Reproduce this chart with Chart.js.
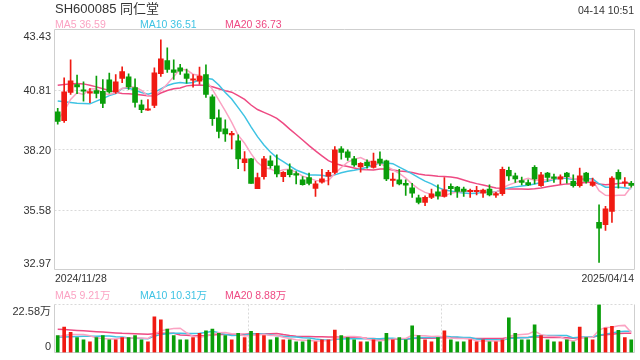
<!DOCTYPE html>
<html><head><meta charset="utf-8">
<script src="https://cdn.jsdelivr.net/npm/chart.js@4.4.1/dist/chart.umd.min.js"></script>
<style>
html,body{margin:0;padding:0;background:#fff;}
#wrap{position:relative;width:640px;height:360px;overflow:hidden;font-family:"Liberation Sans",Arial,"Noto Sans CJK SC",sans-serif;color:#333;}
canvas{position:absolute;left:0;top:0;}
.t{position:absolute;white-space:nowrap;line-height:1;}
</style></head><body>
<div id="wrap">
<canvas id="k" width="640" height="360"></canvas>
<canvas id="v" width="640" height="360"></canvas>
</div>
<script>
const dates = ["2024/11/28","2024/11/29",
"2024/12/02","2024/12/03","2024/12/04","2024/12/05","2024/12/06","2024/12/09","2024/12/10","2024/12/11","2024/12/12","2024/12/13",
"2024/12/16","2024/12/17","2024/12/18","2024/12/19","2024/12/20","2024/12/23","2024/12/24","2024/12/25","2024/12/26","2024/12/27","2024/12/30","2024/12/31",
"2025/01/02","2025/01/03","2025/01/06","2025/01/07","2025/01/08","2025/01/09","2025/01/10","2025/01/13","2025/01/14","2025/01/15","2025/01/16","2025/01/17",
"2025/01/20","2025/01/21","2025/01/22","2025/01/23","2025/01/24","2025/01/27",
"2025/02/05","2025/02/06","2025/02/07","2025/02/10","2025/02/11","2025/02/12","2025/02/13","2025/02/14","2025/02/17","2025/02/18","2025/02/19","2025/02/20","2025/02/21",
"2025/02/24","2025/02/25","2025/02/26","2025/02/27","2025/02/28",
"2025/03/03","2025/03/04","2025/03/05","2025/03/06","2025/03/07","2025/03/10","2025/03/11","2025/03/12","2025/03/13","2025/03/14",
"2025/03/17","2025/03/18","2025/03/19","2025/03/20","2025/03/21","2025/03/24","2025/03/25","2025/03/26","2025/03/27","2025/03/28","2025/03/31",
"2025/04/01","2025/04/02","2025/04/03","2025/04/07","2025/04/08","2025/04/09","2025/04/10","2025/04/11","2025/04/14"];

const opens  = [39.84,39.46,40.69,41.03,40.77,40.66,40.77,40.74,41.24,40.71, 41.30,41.37,40.90,40.15,39.91,40.12,41.51,42.07,41.67,41.76,
 41.50,41.22,41.18,41.46,40.50,39.58,39.10,38.84,38.58,37.63, 37.79,36.49,37.02,37.71,37.49,37.02,37.31,37.11,36.88,36.98,
 36.50,36.78,37.04,37.20,38.23,38.10,37.79,37.44,37.65,37.42, 37.78,37.71,36.85,36.88,36.73,36.53,36.09,35.89,36.11,36.36,
 36.15,36.59,36.56,36.47,36.36,36.36,36.30,36.47,36.21,36.27, 37.29,37.05,36.84,36.76,37.42,36.62,37.17,37.00,36.91,37.17,
 36.81,36.62,37.17,36.63,35.03,34.92,35.50,37.20,36.73,36.73];
const highs  = [39.99,41.32,42.11,41.44,41.15,40.85,41.40,41.25,41.53,41.47, 41.80,41.50,41.28,40.35,40.38,41.76,42.98,42.63,42.11,41.91,
 41.70,41.47,41.79,41.89,40.58,39.93,39.49,38.99,38.84,38.11, 37.82,37.17,37.90,37.92,37.97,37.24,37.58,37.24,37.02,37.17,
 36.81,37.34,37.29,38.33,38.33,38.19,37.90,37.63,37.75,38.04, 38.10,37.74,37.17,37.34,36.88,36.73,36.21,36.18,36.47,36.66,
 36.98,36.70,36.59,36.56,36.47,36.59,36.47,36.66,36.33,37.43, 37.43,37.17,37.00,36.88,37.50,37.21,37.21,37.13,37.10,37.20,
 37.10,37.39,37.20,36.95,35.79,35.72,37.02,37.31,36.98,36.81];
const lows   = [39.30,39.38,40.60,40.63,40.31,40.24,40.45,40.02,40.66,40.64, 41.11,40.82,40.05,39.81,39.90,40.02,41.38,41.56,41.25,41.47,
 41.09,40.92,41.05,40.47,39.25,38.70,38.55,38.23,37.36,37.27, 36.72,36.49,36.91,37.39,37.00,36.80,37.00,36.70,36.65,36.66,
 36.15,36.73,36.66,37.14,37.78,37.72,37.46,37.21,37.39,37.39, 37.49,36.84,36.59,36.66,36.20,36.11,35.83,35.75,36.06,36.04,
 36.12,36.22,36.11,36.15,36.11,36.22,36.11,36.18,36.11,36.20, 36.85,36.76,36.66,36.62,36.70,36.59,36.81,36.76,36.70,36.73,
 36.56,36.56,36.73,36.59,33.28,34.67,35.02,36.52,36.59,36.56];
const closes = [39.42,40.71,41.19,40.93,40.74,40.67,40.64,40.21,40.71,41.15, 41.60,40.93,40.25,39.94,39.94,41.54,42.15,41.69,41.56,41.61,
 41.30,41.25,41.40,40.60,39.54,38.99,38.88,38.91,37.79,37.79, 36.72,36.98,37.79,37.49,37.14,37.20,37.10,37.08,36.67,36.72,
 36.70,36.92,37.21,38.19,38.07,37.85,37.53,37.60,37.49,37.69, 37.60,36.92,36.88,36.70,36.65,36.30,35.89,36.11,36.27,36.18,
 36.44,36.49,36.37,36.37,36.38,36.38,36.43,36.22,36.25,37.34, 37.05,36.92,36.76,36.66,36.92,37.10,36.98,36.94,37.01,37.02,
 36.62,37.05,36.81,36.78,34.77,35.61,36.95,36.91,36.79,36.63];
// volume in 万 (10k shares)
const volumes = [8.0,12.0,9.5,7.0,6.0,5.0,7.0,8.0,6.0,6.0, 7.0,7.0,8.0,6.0,5.0,16.8,15.4,11.0,8.0,6.0,
 6.0,7.0,9.0,10.2,11.0,9.0,8.0,6.0,9.0,7.0, 10.0,9.0,8.0,6.0,7.0,6.0,6.0,5.0,5.0,6.0,
 5.0,6.0,6.0,10.6,8.0,7.0,6.0,5.0,5.0,6.0, 5.0,9.0,6.0,7.0,6.0,12.5,8.0,6.0,5.0,7.0,
 10.2,6.0,5.0,5.0,6.0,5.0,6.0,5.0,5.0,6.0, 16.3,9.0,6.0,6.0,13.0,8.0,6.0,5.0,5.0,6.0,
 5.0,12.0,7.0,6.0,22.58,11.5,12.3,10.4,7.0,6.0];

// moving-average values for days whose window starts before the chart
const ma5Head  = [39.51,39.87,40.38,40.67];
const ma10Head = [40.31,40.28,40.25,40.22,40.21,40.19,40.31,40.42,40.55];
const ma20Head = [41.00,41.03,41.06,41.08,41.06,41.00,40.93,40.85,40.77,40.69,40.64,40.63,40.61,40.58,40.54,40.52,40.66,40.77,40.85];
const vma5Head  = [7.5,8.0,8.5,8.5];
const vma10Head = [7.3,7.3,7.4,7.5,7.6,7.6,7.7,7.8,7.8];
const vma20Head = [10.9,10.8,10.6,10.4,10.2,10.0,9.8,9.6,9.4,9.2,9.0,8.9,8.8,8.7,8.6,8.8,9.0,9.0,9.0];

const priceTicks = ["43.43","40.81","38.20","35.58","32.97"];
const volTicks = ["22.58万","0"];
const legendPrice = ["MA5 36.59","MA10 36.51","MA20 36.73"];
const legendVol = ["MA5 9.21万","MA10 10.31万","MA20 8.88万"];
const titleText = "SH600085 同仁堂";
const timeText = "04-14 10:51";

const RED = '#f01a12', GREEN = '#0a9e0a';
const C5 = '#fba3c3', C10 = '#3fc3e3', C20 = '#ee4a83';

function ma(src, n, head){
  return src.map((_, i) => {
    if (i < n-1) return head[i];
    let s = 0; for (let j = i-n+1; j <= i; j++) s += src[j];
    return s / n;
  });
}
const up = closes.map((c,i) => c >= opens[i]);
const candleColors = up.map(u => u ? RED : GREEN);

const wrap = document.getElementById('wrap');
function addText(txt, x, y, opts){
  const d = document.createElement('div');
  d.className = 't'; d.textContent = txt;
  d.style.fontSize = (opts.size||10.5) + 'px';
  d.style.color = opts.color || '#333';
  let ty = '-50%';
  if (opts.align === 'right') { d.style.right = (640 - x) + 'px'; } else { d.style.left = x + 'px'; }
  if (opts.v === 'top') ty = '0'; else if (opts.v === 'bottom') ty = '-100%';
  d.style.top = y + 'px';
  d.style.transform = 'translateY(' + ty + ')';
  wrap.appendChild(d);
}

const gridPlugin = (opt) => ({
  id: 'frame',
  beforeDatasetsDraw(chart){
    const {ctx, chartArea: a} = chart;
    const y = chart.scales.y;
    ctx.save();
    ctx.lineWidth = 1;
    ctx.strokeStyle = '#d9d9d9';
    ctx.setLineDash([2,2]);
    (opt.hLines||[]).forEach(v => {
      const py = Math.round(y.getPixelForValue(v)) + 0.5;
      ctx.beginPath(); ctx.moveTo(a.left, py); ctx.lineTo(a.right, py); ctx.stroke();
    });
    (opt.vLines||[]).forEach(fr => {
      const px = Math.round(a.left + (a.right - a.left) * fr) + 0.5;
      ctx.beginPath(); ctx.moveTo(px, a.top); ctx.lineTo(px, a.bottom); ctx.stroke();
    });
    if (opt.dottedTop) {
      ctx.beginPath(); ctx.moveTo(a.left, a.top); ctx.lineTo(a.right, a.top); ctx.stroke();
    }
    ctx.setLineDash([]);
    ctx.strokeStyle = '#cfcfcf';
    ctx.beginPath();
    if (!opt.dottedTop) { ctx.moveTo(a.left, a.top); ctx.lineTo(a.right, a.top); }
    ctx.moveTo(a.right, a.top); ctx.lineTo(a.right, a.bottom);
    ctx.moveTo(a.left, a.top); ctx.lineTo(a.left, a.bottom);
    if (opt.bottom) { ctx.moveTo(a.left, a.bottom); ctx.lineTo(a.right, a.bottom); }
    ctx.stroke();
    ctx.restore();
  }
});

const lineDs = (data, color) => ({type:'line', data, borderColor: color, borderWidth: 1.5, pointRadius: 0, tension: 0, order: 2, fill: false});
const common = {
  responsive: false, animation: false, events: [],
  plugins: {legend: {display: false}, tooltip: {enabled: false}},
};

const pMin = parseFloat(priceTicks[priceTicks.length-1]), pMax = parseFloat(priceTicks[0]);
const kChart = new Chart(document.getElementById('k'), {
  type: 'bar',
  data: {
    labels: dates,
    datasets: [
      {data: lows.map((l,i) => [l, highs[i]]), backgroundColor: candleColors, barThickness: 1, grouped: false, order: 1},
      {data: opens.map((o,i) => [o, closes[i]]), backgroundColor: candleColors, barThickness: 5, minBarLength: 1.5, grouped: false, order: 0},
      lineDs(ma(closes,5,ma5Head), C5),
      lineDs(ma(closes,10,ma10Head), C10),
      lineDs(ma(closes,20,ma20Head), C20),
    ]
  },
  options: Object.assign({}, common, {
    layout: {padding: {left: 54.5, right: 5.5, top: 29.5, bottom: 90.5}},
    scales: {
      x: {display: false, offset: true},
      y: {display: false, min: pMin, max: pMax}
    }
  }),
  plugins: [gridPlugin({hLines: priceTicks.slice(1,-1).map(parseFloat), bottom: true})]
});

const vMax = parseFloat(volTicks[0]);
const vChart = new Chart(document.getElementById('v'), {
  type: 'bar',
  data: {
    labels: dates,
    datasets: [
      {data: volumes, backgroundColor: candleColors, barThickness: 3, order: 1},
      lineDs(ma(volumes,5,vma5Head), C5),
      lineDs(ma(volumes,10,vma10Head), C10),
      lineDs(ma(volumes,20,vma20Head), C20),
    ]
  },
  options: Object.assign({}, common, {
    layout: {padding: {left: 54.5, right: 5.5, top: 304.5, bottom: 7.5}},
    scales: {
      x: {display: false, offset: true},
      y: {display: false, min: 0, max: vMax}
    }
  }),
  plugins: [gridPlugin({vLines: [1/3, 2/3], dottedTop: true, bottom: true})]
});

// texts
addText(titleText, 55, 7.5, {size: 13});
addText(timeText, 634, 10, {align: 'right'});
const lx = [55, 140, 225], lc = [C5, C10, C20];
legendPrice.forEach((t,i) => addText(t, lx[i], 23.5, {color: lc[i]}));
legendVol.forEach((t,i) => addText(t, lx[i], 294.5, {color: lc[i]}));
addText(dates[0], 55, 277.5, {});
addText(dates[dates.length-1], 634, 277.5, {align: 'right'});
priceTicks.forEach((t,i) => {
  const py = kChart.scales.y.getPixelForValue(parseFloat(t));
  if (i === 0) addText(t, 51, py + 1, {align:'right', size: 11, v: 'top'});
  else if (i === priceTicks.length-1) addText(t, 51, py - 1, {align:'right', size: 11, v: 'bottom'});
  else addText(t, 51, py, {align:'right', size: 11});
});
volTicks.forEach((t,i) => {
  const py = vChart.scales.y.getPixelForValue(parseFloat(t));
  if (i === 0) addText(t, 51, py + 1, {align:'right', size: 11, v: 'top'});
  else addText(t, 51, py - 1, {align:'right', size: 11, v: 'bottom'});
});
</script>
</body></html>
